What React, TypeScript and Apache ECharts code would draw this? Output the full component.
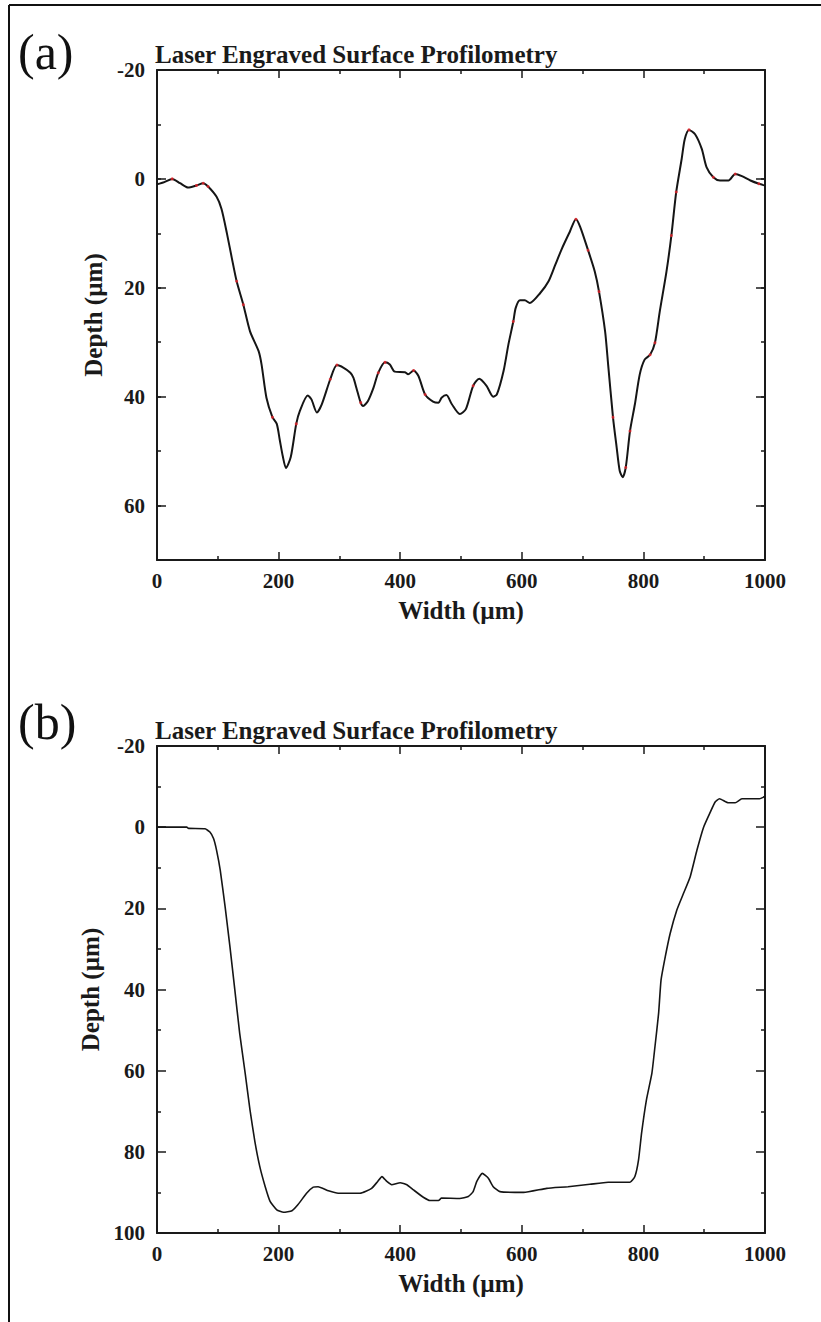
import { useEffect, useRef } from "react";
import * as echarts from "echarts";

// Panel (a): measured profile (width in µm, depth in µm)
const widthA = [
  0, 12, 25, 38, 51, 65, 76, 84, 98, 106, 115, 123, 131, 142, 153, 167, 172, 180, 190, 197,
  202, 207, 212, 220, 229, 235, 248, 254, 263, 271, 285, 296, 307, 318, 323, 328, 335, 339, 347, 356,
  364, 375, 383, 391, 408, 413, 422, 430, 441, 454, 463, 468, 476, 485, 498, 508, 520, 530, 542, 553,
  559, 570, 578, 586, 590, 597, 605, 613, 630, 644, 655, 666, 679, 689, 696, 709, 720, 727, 737, 742,
  750, 756, 761, 766, 771, 778, 786, 794, 802, 811, 819, 827, 838, 846, 854, 863, 868, 875, 885, 896,
  904, 915, 926, 940, 951, 962, 976, 990, 1000,
];
const depthA = [
  1.0, 0.6, 0.0, 0.8, 1.6, 1.2, 0.8, 1.4, 3.3, 5.5, 10, 14.5, 18.8, 23.1, 28, 31.6, 34.1, 40.2, 43.8, 45,
  48, 51, 53.1, 51.1, 45, 42.6, 39.8, 40.5, 42.9, 41.4, 36.8, 34.2, 34.7, 35.6, 36.5, 38.4, 41.1, 41.7, 40.8, 38.4,
  35.6, 33.7, 34.1, 35.4, 35.5, 35.9, 35.2, 36.2, 39.6, 40.9, 41.1, 40.2, 39.7, 41.4, 43.2, 42.3, 38.0, 36.7, 38.0, 40.0,
  39.6, 35.3, 30.4, 26.2, 23.7, 22.3, 22.3, 22.8, 21, 18.8, 15.8, 12.8, 9.7, 7.4, 8.8, 13.1, 17.0, 20.7, 28, 34.1,
  43.8, 49.3, 53.6, 54.8, 53, 46.3, 41.4, 35.9, 33.2, 32.3, 30.1, 24.3, 17, 10.4, 2.4, -3.7, -7.3, -9.0, -8.2, -5.5,
  -2.1, -0.3, 0.3, 0.3, -0.9, -0.5, 0.3, 0.9, 1.2,
];
// Panel (a): widths of the raw sample points shown in red
const sampleWidthA = [
  25, 65, 76, 84, 131, 142, 190, 229, 285, 296, 335, 364, 375, 422, 441, 520, 586, 689, 709, 727,
  750, 771, 778, 811, 819, 846, 854, 875, 915, 951, 990,
];

// Panel (b): measured profile
const widthB = [
  0, 25, 49, 52, 79, 87, 93, 98, 104, 112, 120, 128, 136, 145, 153, 161, 169, 178, 186, 197,
  208, 222, 232, 246, 257, 265, 282, 298, 334, 353, 363, 370, 378, 386, 400, 411, 422, 438, 449, 463,
  468, 498, 512, 520, 526, 535, 545, 553, 564, 603, 641, 676, 712, 742, 778, 786, 792, 797, 805, 814,
  819, 825, 829, 836, 844, 855, 866, 877, 888, 899, 910, 918, 925, 940, 951, 962, 991, 1000,
];
const depthB = [
  0, 0, 0, 0.3, 0.4, 1.2, 2.8, 5.7, 10.6, 19.6, 29.5, 40.1, 50.8, 60.6, 69.7, 77.5, 83.6, 88.6, 92.2, 94.3,
  94.9, 94.5, 93, 90.2, 88.7, 88.6, 89.6, 90.2, 90.2, 89, 87.3, 86.1, 87.3, 88.1, 87.6, 88.1, 89.4, 91.2, 92, 92,
  91.4, 91.5, 91, 89.8, 87.3, 85.3, 86.5, 88.6, 89.8, 90, 89, 88.6, 88, 87.5, 87.5, 86.1, 82, 75.4, 67.2, 60.6,
  54.1, 45.9, 37.7, 31.9, 26.2, 20.4, 16.3, 12.2, 5.7, 0, -3.7, -6.2, -7.0, -6.0, -6, -7, -7, -7.6,
];

const TITLE = "Laser Engraved Surface Profilometry";
const X_NAME = "Width (µm)";
const Y_NAME = "Depth (µm)";

const SERIF = '"Liberation Serif", "Times New Roman", serif';
const INK = "#1a1a1a";

const labelStyle = {
  color: INK,
  fontFamily: SERIF,
  fontWeight: "bold" as const,
  fontSize: 21,
  formatter: (v: number) => String(v),
};
const nameStyle = {
  color: INK,
  fontFamily: SERIF,
  fontWeight: "bold" as const,
  fontSize: 25,
};
const lineStyle = { color: INK, width: 2 };
const tickLine = { color: INK, width: 1.5 };

function xAxes(gridIndex: number) {
  const base = {
    type: "value" as const,
    gridIndex,
    min: 0,
    max: 1000,
    interval: 200,
    axisLine: { show: true, onZero: false, lineStyle },
    axisTick: { show: true, inside: true, length: 8, lineStyle: tickLine },
    minorTick: { show: true, splitNumber: 2, length: 4, lineStyle: tickLine },
    splitLine: { show: false },
    minorSplitLine: { show: false },
  };
  return [
    {
      ...base,
      position: "bottom",
      axisLabel: { ...labelStyle, margin: 10 },
      name: X_NAME,
      nameLocation: "middle",
      nameGap: 38,
      nameTextStyle: nameStyle,
    },
    { ...base, position: "top", axisLabel: { show: false } },
  ];
}

function yAxis(
  gridIndex: number,
  position: "left" | "right",
  max: number,
  interval: number,
  tickLength: number,
  withLabels: boolean,
  withLine: boolean,
  minor: boolean,
) {
  return {
    type: "value" as const,
    gridIndex,
    position,
    inverse: true,
    min: -20,
    max,
    interval,
    axisLine: { show: withLine, onZero: false, lineStyle },
    axisTick: { show: true, inside: true, length: tickLength, lineStyle: tickLine },
    minorTick: { show: minor, splitNumber: 2, length: 4, lineStyle: tickLine },
    splitLine: { show: false },
    minorSplitLine: { show: false },
    axisLabel: withLabels
      ? { ...labelStyle, margin: 12, showMaxLabel: max % interval === 0 }
      : { show: false },
    ...(withLabels
      ? {
          name: Y_NAME,
          nameLocation: "middle",
          nameGap: 44,
          nameTextStyle: nameStyle,
        }
      : {}),
  };
}

export default function App() {
  const ref = useRef<HTMLDivElement>(null);

  useEffect(() => {
    if (!ref.current) return;
    const chart = echarts.init(ref.current, null, { renderer: "svg" });

    const profileA = widthA.map((w, i) => [w, depthA[i]]);
    const samplesA = sampleWidthA.map((w) => [w, depthA[widthA.indexOf(w)]]);
    const profileB = widthB.map((w, i) => [w, depthB[i]]);

    const panelText = (label: string, y: number) => ({
      type: "text",
      left: 18,
      top: y - 30,
      style: {
        text: label,
        font: `normal 50px ${SERIF}`,
        fill: "#111",
      },
    });

    const titleText = (y: number) => ({
      type: "text",
      left: 155,
      top: y - 15,
      style: {
        text: TITLE,
        font: `bold 25px ${SERIF}`,
        fill: INK,
      },
    });

    chart.setOption({
      animation: false,
      backgroundColor: "#ffffff",
      grid: [
        { left: 157, top: 70, width: 608, height: 490 },
        { left: 157, top: 746, width: 608, height: 487 },
      ],
      xAxis: [...xAxes(0), ...xAxes(1)],
      yAxis: [
        // panel (a): labelled major ticks + short ticks every 10 µm
        yAxis(0, "left", 70, 20, 9, true, true, false),
        yAxis(0, "left", 70, 10, 4, false, false, false),
        yAxis(0, "right", 70, 20, 9, false, true, false),
        yAxis(0, "right", 70, 10, 4, false, false, false),
        // panel (b)
        yAxis(1, "left", 100, 20, 9, true, true, true),
        yAxis(1, "right", 100, 20, 9, false, true, true),
      ],
      series: [
        {
          type: "line",
          xAxisIndex: 0,
          yAxisIndex: 0,
          data: profileA,
          showSymbol: false,
          smooth: 0.25,
          lineStyle: { color: "#151515", width: 2 },
          z: 2,
        },
        {
          type: "scatter",
          xAxisIndex: 0,
          yAxisIndex: 0,
          data: samplesA,
          symbolSize: 3,
          itemStyle: { color: "#e8232a" },
          z: 3,
        },
        {
          type: "line",
          xAxisIndex: 2,
          yAxisIndex: 4,
          data: profileB,
          showSymbol: false,
          smooth: 0.15,
          lineStyle: { color: "#151515", width: 1.6 },
          z: 2,
        },
      ],
      graphic: [
        // figure frame (left and top edges)
        {
          type: "line",
          shape: { x1: 9, y1: 5, x2: 9, y2: 1322 },
          style: { stroke: "#111", lineWidth: 2 },
        },
        {
          type: "line",
          shape: { x1: 9, y1: 5, x2: 821, y2: 5 },
          style: { stroke: "#111", lineWidth: 2 },
        },
        panelText("(a)", 57),
        panelText("(b)", 727),
        titleText(57),
        titleText(733),
      ],
    });

    return () => chart.dispose();
  }, []);

  return (
    <div
      ref={ref}
      style={{
        position: "absolute",
        left: 0,
        top: 0,
        width: 821,
        height: 1322,
        background: "#ffffff",
      }}
    />
  );
}
